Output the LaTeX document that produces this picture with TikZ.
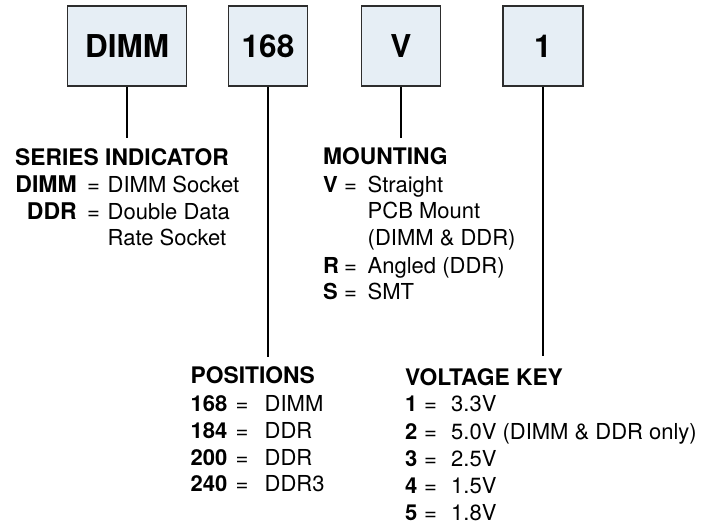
\documentclass[tikz,border=0pt]{standalone}
\usepackage{fontspec}
\setmainfont{TeX Gyre Heros}
\definecolor{boxfill}{RGB}{230,238,245}
\definecolor{boxline}{RGB}{45,45,45}
\begin{document}
\begin{tikzpicture}[x=1pt,y=-1pt,
  box/.style={draw=boxline, line width=1.1pt, fill=boxfill, minimum height=80pt, inner sep=0pt,
    font=\fontsize{31.5}{31.5}\selectfont\bfseries},
  conn/.style={line width=2.4pt, black},
  txt/.style={anchor=base west, inner sep=0pt, font=\fontsize{22}{26}\selectfont},
  btxt/.style={txt, font=\fontsize{22}{26}\selectfont\bfseries},
  htxt/.style={txt, font=\fontsize{22.8}{26}\selectfont\bfseries},
  rtxt/.style={anchor=base east, inner sep=0pt, font=\fontsize{23}{26}\selectfont\bfseries}]
\useasboundingbox (0,0) rectangle (716,524);
% boxes
\node[box, minimum width=119pt] (bdimm) at (127,46) {DIMM};
\node[box, minimum width=79pt] (b168) at (268,46) {168};
\node[box, minimum width=79pt] (bv) at (401,46) {V};
\node[box, minimum width=80pt] (bone) at (543,46) {1};
% connector ends
\coordinate (edimm) at (127,138);
\coordinate (e168) at (268,357);
\coordinate (ev) at (401,138);
\coordinate (eone) at (543,356);
\draw[conn] (bdimm.south) -- (edimm);
\draw[conn] (b168.south) -- (e168);
\draw[conn] (bv.south) -- (ev);
\draw[conn] (bone.south) -- (eone);
% series indicator
\node[htxt] (sh) at (15,166) {SERIES INDICATOR};
\node[rtxt] (s1k) at (77,193) {DIMM};
\node[txt] (s1e) at (87,193) {=};
\node[txt] (s1v) at (107.5,193) {DIMM Socket};
\node[rtxt] (s2k) at (77,219.5) {DDR};
\node[txt] (s2e) at (87,219.5) {=};
\node[txt] (s2v) at (107.5,219.5) {Double Data};
\node[txt] (s3v) at (107.5,246) {Rate Socket};
% mounting
\node[htxt] (mh) at (323,165) {MOUNTING};
\node[btxt] (m1k) at (323,192.3) {V};
\node[txt] (m1e) at (344,192.3) {=};
\node[txt] (m1v) at (367.5,192.3) {Straight};
\node[txt] (m2v) at (367.5,218.8) {PCB Mount};
\node[txt] (m3v) at (367.5,245.5) {(DIMM \& DDR)};
\node[btxt] (m4k) at (323,273.3) {R};
\node[txt] (m4e) at (344,273.3) {=};
\node[txt] (m4v) at (367.5,273.3) {Angled (DDR)};
\node[btxt] (m5k) at (323,300) {S};
\node[txt] (m5e) at (344,300) {=};
\node[txt] (m5v) at (367.5,300) {SMT};
% positions
\node[htxt] (ph) at (190.5,384) {POSITIONS};
\node[btxt] (p1k) at (190.5,411.7) {168};
\node[txt] (p1e) at (235.5,411.7) {=};
\node[txt] (p1v) at (264.5,411.7) {DIMM};
\node[btxt] (p2k) at (190.5,438.5) {184};
\node[txt] (p2e) at (235.5,438.5) {=};
\node[txt] (p2v) at (264.5,438.5) {DDR};
\node[btxt] (p3k) at (190.5,465) {200};
\node[txt] (p3e) at (235.5,465) {=};
\node[txt] (p3v) at (264.5,465) {DDR};
\node[btxt] (p4k) at (190.5,491.5) {240};
\node[txt] (p4e) at (235.5,491.5) {=};
\node[txt] (p4v) at (264.5,491.5) {DDR3};
% voltage key
\node[htxt] (vh) at (405,385) {VOLTAGE KEY};
\node[btxt] (v1k) at (405,411.7) {1};
\node[txt] (v1e) at (424,411.7) {=};
\node[txt] (v1v) at (451,411.7) {3.3V};
\node[btxt] (v2k) at (405,439.3) {2};
\node[txt] (v2e) at (424,439.3) {=};
\node[txt] (v2v) at (451,439.3) {5.0V (DIMM \& DDR only)};
\node[btxt] (v3k) at (405,466.5) {3};
\node[txt] (v3e) at (424,466.5) {=};
\node[txt] (v3v) at (451,466.5) {2.5V};
\node[btxt] (v4k) at (405,493.3) {4};
\node[txt] (v4e) at (424,493.3) {=};
\node[txt] (v4v) at (451,493.3) {1.5V};
\node[btxt] (v5k) at (405,520) {5};
\node[txt] (v5e) at (424,520) {=};
\node[txt] (v5v) at (451,520) {1.8V};
\end{tikzpicture}
\end{document}
